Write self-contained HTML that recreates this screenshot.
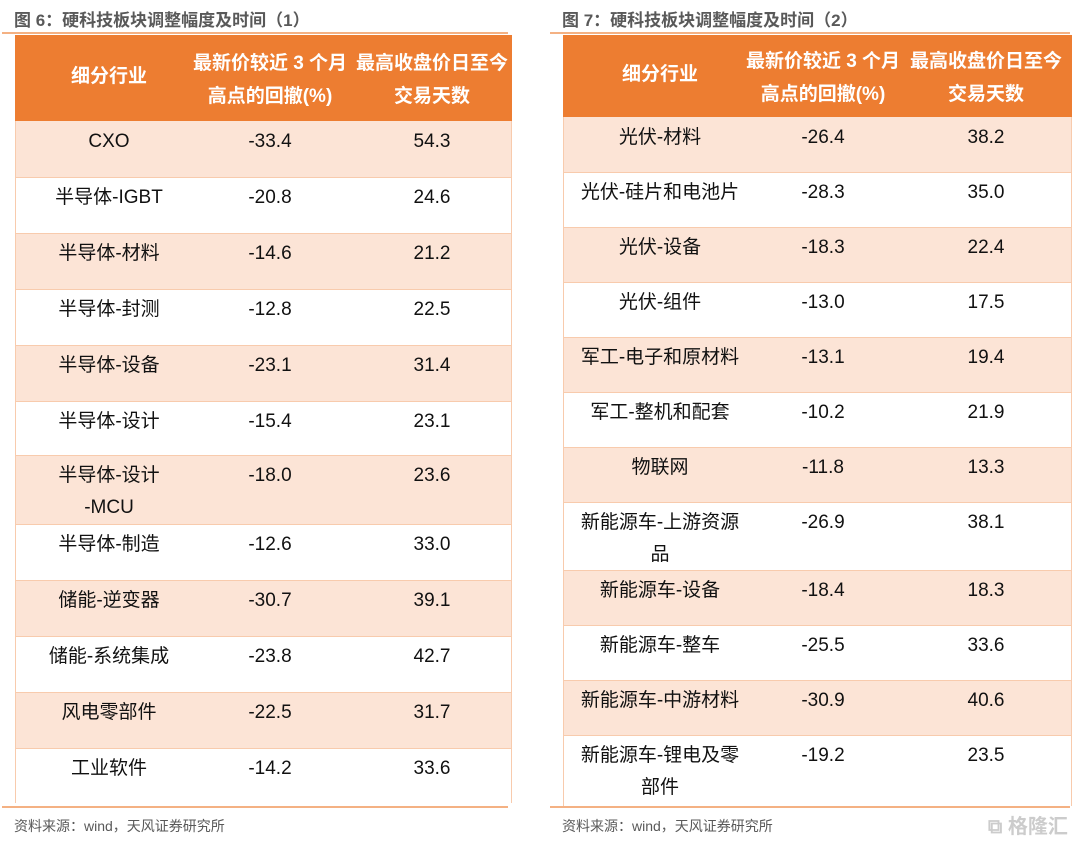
<!DOCTYPE html>
<html><head><meta charset="utf-8">
<style>
body{margin:0;width:1080px;height:841px;background:#fff;position:relative;overflow:hidden;font-family:"Liberation Sans","Noto Sans CJK SC",sans-serif;}
.abs{position:absolute;}
.title{font-size:17px;font-weight:bold;color:#595959;top:6px;}
.hline{height:2px;background:#F4B183;}
.tbl{border:1px solid #F8CBAD;box-sizing:border-box;}
.hdr{background:#ED7D31;color:#fff;font-weight:bold;font-size:19px;}
.cell{position:absolute;text-align:center;font-size:19px;color:#111;line-height:32px;white-space:nowrap;}
.foot{font-size:14px;color:#595959;top:816px;}
</style></head><body>
<script>
const leftNames=[["CXO"],["半导体-IGBT"],["半导体-材料"],["半导体-封测"],["半导体-设备"],["半导体-设计"],["半导体-设计","-MCU"],["半导体-制造"],["储能-逆变器"],["储能-系统集成"],["风电零部件"],["工业软件"]];
const leftDrawdown=[-33.4,-20.8,-14.6,-12.8,-23.1,-15.4,-18.0,-12.6,-30.7,-23.8,-22.5,-14.2];
const leftDays=[54.3,24.6,21.2,22.5,31.4,23.1,23.6,33.0,39.1,42.7,31.7,33.6];
const rightNames=[["光伏-材料"],["光伏-硅片和电池片"],["光伏-设备"],["光伏-组件"],["军工-电子和原材料"],["军工-整机和配套"],["物联网"],["新能源车-上游资源","品"],["新能源车-设备"],["新能源车-整车"],["新能源车-中游材料"],["新能源车-锂电及零","部件"]];
const rightDrawdown=[-26.4,-28.3,-18.3,-13.0,-13.1,-10.2,-11.8,-26.9,-18.4,-25.5,-30.9,-19.2];
const rightDays=[38.2,35.0,22.4,17.5,19.4,21.9,13.3,38.1,18.3,33.6,40.6,23.5];

function panel(p){
  const b=document.body;
  const t=document.createElement('div');t.className='abs title';t.style.left=p.x0+'px';t.textContent=p.title;
  
  
  b.appendChild(t);
  const l=document.createElement('div');l.className='abs hline';l.style.cssText=`left:${p.lx}px;width:${p.lw}px;top:32px;`;
  
  
  b.appendChild(l);
  const tb=document.createElement('div');tb.className='abs tbl';tb.style.cssText=`left:${p.tx}px;width:${p.tw}px;top:35px;height:${p.bounds[p.bounds.length-1]-35}px;`;
  
  
  b.appendChild(tb);
  const h=document.createElement('div');h.className='abs hdr';h.style.cssText=`left:${p.tx}px;width:${p.tw}px;top:35px;height:${p.bounds[0]-35}px;`;
  
  
  const hh=p.bounds[0]-35;
  h.innerHTML=`<div style="position:absolute;left:${p.c1-p.tx-70}px;width:140px;text-align:center;top:${hh/2-14}px;line-height:26px">细分行业</div>
  <div style="position:absolute;left:${p.c2-p.tx-90}px;width:180px;text-align:center;top:${hh/2-31}px;line-height:33px;white-space:nowrap">最新价较近 3 个月<br>高点的回撤(%)</div>
  <div style="position:absolute;left:${p.c3-p.tx-90}px;width:180px;text-align:center;top:${hh/2-31}px;line-height:33px;white-space:nowrap">最高收盘价日至今<br>交易天数</div>`;
  b.appendChild(h);
  for(let i=0;i<p.names.length;i++){
    const top=p.bounds[i],bot=p.bounds[i+1];
    const r=document.createElement('div');r.className='abs';
    r.style.cssText=`left:${p.tx+1}px;width:${p.tw-2}px;top:${top}px;height:${bot-top}px;background:${i%2==0?'#FCE4D6':'#fff'};border-top:${i>0?'1px solid #F8CBAD':'none'};box-sizing:border-box;`;
    
    
    b.appendChild(r);
    const a=document.createElement('div');a.className='cell';a.style.cssText=`left:${p.c1-110}px;width:220px;top:${top+5}px;`;
    a.innerHTML=p.names[i].join('<br>');
    
    
    b.appendChild(a);
    const c=document.createElement('div');c.className='cell';c.style.cssText=`left:${p.c2-60}px;width:120px;top:${top+5}px;`;
    c.textContent=p.dd[i].toFixed(1);
    
    
    b.appendChild(c);
    const d=document.createElement('div');d.className='cell';d.style.cssText=`left:${p.c3-60}px;width:120px;top:${top+5}px;`;
    d.textContent=p.days[i].toFixed(1);
    
    
    b.appendChild(d);
  }
  const l2=document.createElement('div');l2.className='abs hline';l2.style.cssText=`left:${p.lx}px;width:${p.lw}px;top:806px;`;
  
  
  b.appendChild(l2);
  const f=document.createElement('div');f.className='abs foot';f.style.left=(p.x0)+'px';f.textContent='资料来源：wind，天风证券研究所';
  
  
  b.appendChild(f);
}
panel({x0:14,title:'图 6：硬科技板块调整幅度及时间（1）',lx:2,lw:506,tx:15,tw:497,c1:109,c2:270,c3:432,
  bounds:[121,177,233,289,345,401,455,524,580,636,692,748,803],names:leftNames,dd:leftDrawdown,days:leftDays});
panel({x0:562,title:'图 7：硬科技板块调整幅度及时间（2）',lx:550,lw:520,tx:563,tw:509,c1:660,c2:823,c3:986,
  bounds:[117,172,227,282,337,392,447,502,570,625,680,735,806],names:rightNames,dd:rightDrawdown,days:rightDays});
</script>
<div class="abs" style="left:988px;top:810px;font-size:20px;color:#ccc;font-weight:bold;">⧉ 格隆汇</div>
</body></html>
